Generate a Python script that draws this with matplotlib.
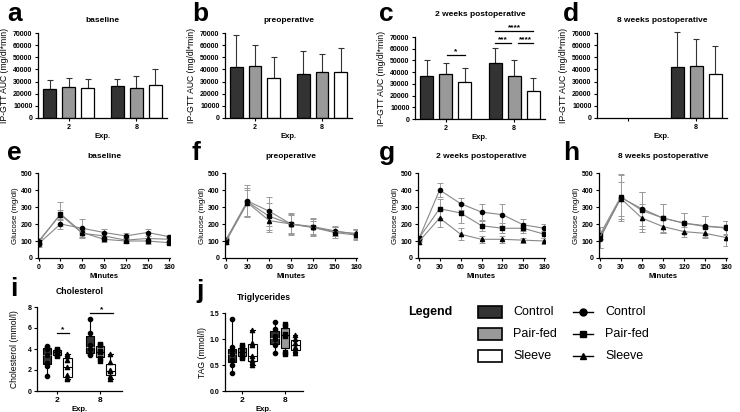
import matplotlib
matplotlib.use("Agg")
import matplotlib.pyplot as plt
import numpy as np
from matplotlib.patches import Rectangle

plt.rcParams["font.family"] = ["Liberation Sans", "DejaVu Sans"]

W, H = 740, 412

groups = ["Control", "Pair-fed", "Sleeve"]
bar_colors = ["#333333", "#999999", "#ffffff"]
markers = ["o", "s", "^"]
exp_labels = ["2", "8"]

# IP-GTT AUC (mean, SD) per experiment (2, 8) and group
auc_base = [[24000, 25500, 25000], [26500, 24500, 27500]]
auc_base_sd = [[7000, 7500, 7500], [5500, 10000, 13000]]
auc_preop = [[42000, 42500, 33000], [36500, 37500, 38000]]
auc_preop_sd = [[26500, 17500, 17500], [19000, 15500, 20000]]
auc_2wk = [[36500, 38000, 31500], [47500, 36500, 24000]]
auc_2wk_sd = [[13500, 9500, 12000], [13500, 13500, 11000]]
auc_8wk = [[None, None, None], [42000, 43000, 36500]]
auc_8wk_sd = [[None, None, None], [29000, 22000, 22500]]

# glucose curves
minutes = [0, 30, 60, 90, 120, 150, 180]
glu_base = [[85, 200, 175, 150, 130, 150, 125],
            [95, 260, 150, 110, 100, 100, 90],
            [100, 255, 145, 130, 105, 115, 110]]
glu_base_sd = [[20, 30, 55, 20, 15, 20, 10],
               [25, 70, 25, 15, 10, 15, 10],
               [20, 30, 20, 20, 15, 15, 10]]
glu_preop = [[105, 335, 275, 200, 185, 160, 140],
             [100, 330, 245, 200, 180, 150, 135],
             [95, 325, 220, 200, 180, 155, 145]]
glu_preop_sd = [[20, 95, 85, 65, 50, 30, 30],
                [15, 80, 80, 60, 50, 30, 30],
                [15, 75, 65, 55, 40, 25, 25]]
glu_2wk = [[110, 400, 320, 270, 255, 195, 175],
           [115, 290, 265, 190, 175, 175, 140],
           [95, 235, 140, 110, 110, 105, 100]]
glu_2wk_sd = [[15, 40, 35, 45, 65, 35, 25],
              [15, 55, 60, 30, 30, 30, 20],
              [15, 50, 35, 20, 20, 15, 20]]
glu_8wk = [[110, 355, 290, 235, 205, 190, 175],
           [135, 360, 280, 235, 205, 185, 180],
           [120, 350, 235, 185, 155, 145, 120]]
glu_8wk_sd = [[50, 140, 100, 85, 60, 55, 40],
              [25, 130, 110, 80, 60, 60, 40],
              [60, 100, 80, 40, 30, 30, 50]]

# cholesterol individual values [exp][group]
chol = [[[4.3, 4.2, 4.0, 3.4, 2.7, 2.4, 1.4],
         [4.0, 3.9, 3.8, 3.7, 3.4, 3.3],
         [3.5, 3.3, 3.0, 2.3, 1.5, 1.2, 1.1]],
        [[6.9, 5.5, 4.4, 4.0, 3.5, 3.4],
         [4.5, 4.4, 3.8, 3.7, 3.1, 2.9],
         [3.5, 2.8, 2.0, 1.9, 1.4, 1.1]]]
# triglycerides
tag = [[[1.38, 0.85, 0.78, 0.72, 0.6, 0.5, 0.35],
        [0.88, 0.85, 0.78, 0.72, 0.65, 0.63],
        [1.17, 0.92, 0.88, 0.68, 0.6, 0.55, 0.5]],
       [[1.33, 1.2, 1.05, 1.0, 0.88, 0.73],
        [1.28, 1.25, 1.1, 1.05, 0.75, 0.72],
        [1.07, 1.0, 0.92, 0.85, 0.78, 0.73]]]

fig = plt.figure(figsize=(W / 100, H / 100), dpi=100)


def ax_px(l, t, r, b):
    ax = fig.add_axes([l / W, 1 - b / H, (r - l) / W, (b - t) / H])
    ax._pxw = r - l
    return ax


def style(ax, ylab_dist):
    ax.spines["top"].set_visible(False)
    ax.spines["right"].set_visible(False)
    for s in ["left", "bottom"]:
        ax.spines[s].set_linewidth(0.9)
    ax.tick_params(labelsize=5, width=0.8, length=2.5, pad=1.5)
    for t in ax.get_xticklabels() + ax.get_yticklabels():
        t.set_fontweight("bold")
    ax.yaxis.set_label_coords(-ylab_dist / ax._pxw, 0.5)


def letter(x, y, s):
    fig.text(x / W, 1 - y / H, s, fontsize=19, fontweight="bold", va="baseline")


offsets = [-0.28, 0, 0.28]


def bar_panel(rect, vals, sds, title, show2=True, tpad=8):
    ax = ax_px(*rect)
    for e in range(2):
        for g in range(3):
            if vals[e][g] is None:
                continue
            x = e + offsets[g]
            ax.bar(x, vals[e][g], width=0.19, color=bar_colors[g],
                   edgecolor="black", linewidth=0.9, zorder=2)
            ax.errorbar(x, vals[e][g], yerr=[[0], [sds[e][g]]], fmt="none",
                        ecolor="#333333", elinewidth=0.8, capsize=2.2,
                        capthick=0.8, zorder=1, clip_on=False)
    ax.set_xlim(-0.45, 1.45)
    ax.set_ylim(0, 70000)
    ax.set_yticks(range(0, 70001, 10000))
    ax.set_xticks([0, 1])
    ax.set_xticklabels(exp_labels if show2 else ["", "8"])
    ax.set_xlabel("Exp.", fontsize=5.5, fontweight="bold", labelpad=2)
    ax.set_ylabel("IP-GTT AUC (mg/dl*min)", fontsize=6.2)
    ax.set_title(title, fontsize=6, fontweight="bold", pad=tpad)
    style(ax, 29)
    return ax


bar_panel((38, 33, 167, 118), auc_base, auc_base_sd, "baseline")
bar_panel((225, 33, 352, 118), auc_preop, auc_preop_sd, "preoperative")
axc = bar_panel((415, 37, 545, 119), auc_2wk, auc_2wk_sd,
                "2 weeks postoperative", tpad=15)
bar_panel((597, 33, 727, 118), auc_8wk, auc_8wk_sd, "8 weeks postoperative",
          show2=False)


def sig(ax, x1, x2, y, s, dy):
    ax.plot([x1, x2], [y, y], color="black", lw=0.9, clip_on=False)
    ax.text((x1 + x2) / 2, y + dy, s, ha="center", va="baseline",
            fontsize=6, fontweight="bold", clip_on=False)


sig(axc, offsets[1] + 0.02, offsets[2], 55000, "*", 1500)
sig(axc, 1 + offsets[0], 1 + offsets[1] - 0.05, 65000, "***", 1500)
sig(axc, 1 + offsets[1] + 0.05, 1 + offsets[2], 65000, "****", 1500)
sig(axc, 1 + offsets[0], 1 + offsets[2], 75500, "****", 1500)


def line_panel(rect, vals, sds, title):
    ax = ax_px(*rect)
    for g in range(3):
        ax.errorbar(minutes, vals[g], yerr=sds[g], color="#888888", lw=0.8,
                    ecolor="#999999", elinewidth=0.7, capsize=2, capthick=0.7,
                    marker=markers[g], mfc="black", mec="black", ms=3, zorder=2)
    ax.set_xlim(-1, 181)
    ax.set_ylim(0, 500)
    ax.set_xticks(minutes)
    ax.set_yticks(range(0, 501, 100))
    ax.set_xlabel("Minutes", fontsize=5.5, fontweight="bold", labelpad=2)
    ax.set_ylabel("Glucose (mg/dl)", fontsize=5.8)
    ax.set_title(title, fontsize=6, fontweight="bold", pad=11)
    style(ax, 19)


line_panel((38, 173, 170, 258), glu_base, glu_base_sd, "baseline")
line_panel((225, 173, 357, 258), glu_preop, glu_preop_sd, "preoperative")
line_panel((418, 173, 545, 258), glu_2wk, glu_2wk_sd, "2 weeks postoperative")
line_panel((599, 173, 727, 258), glu_8wk, glu_8wk_sd, "8 weeks postoperative")

box_off = [-0.24, 0, 0.24]


def box_panel(rect, data, ylim, yticks, ylabel, title, fmt, xlim):
    ax = ax_px(*rect)
    for e in range(2):
        for g in range(3):
            x = e + box_off[g]
            d = data[e][g]
            ax.boxplot([d], positions=[x], widths=0.2, whis=(0, 100),
                       patch_artist=True, showfliers=False,
                       boxprops=dict(facecolor=bar_colors[g], edgecolor="black", lw=0.8),
                       medianprops=dict(color="#bbbbbb" if g == 0 else "black", lw=0.8),
                       whiskerprops=dict(lw=0.8), capprops=dict(lw=0.8))
            ax.scatter([x] * len(d), d, marker=markers[g], s=9, color="black",
                       zorder=3)
    ax.set_xlim(*xlim)
    ax.set_ylim(*ylim)
    ax.set_yticks(yticks)
    ax.yaxis.set_major_formatter(plt.FormatStrFormatter(fmt))
    ax.set_xticks([0, 1])
    ax.set_xticklabels(exp_labels)
    ax.tick_params(axis="x", labelsize=6)
    ax.set_xlabel("Exp.", fontsize=5.5, fontweight="bold", labelpad=2)
    ax.set_ylabel(ylabel, fontsize=6.2)
    ax.set_title(title, fontsize=6.2, fontweight="bold", pad=9)
    style(ax, 18)
    ax.tick_params(axis="x", labelsize=6)
    return ax


axi = box_panel((37, 307, 122, 391), chol, (0, 8), [0, 2, 4, 6, 8],
                "Cholesterol (mmol/l)", "Cholesterol", "%d", (-0.47, 1.51))
sig(axi, box_off[1], box_off[2] + 0.03, 5.5, "*", 0.2)
sig(axi, 1 + box_off[0], 1 + box_off[2] + 0.05, 7.4, "*", 0.2)
box_panel((225, 313, 303, 391), tag, (0, 1.5), [0.0, 0.5, 1.0, 1.5],
          "TAG (mmol/l)", "Triglycerides", "%.1f", (-0.4, 1.42))

letter(7, 21, "a")
letter(192, 21, "b")
letter(379, 21, "c")
letter(563, 21, "d")
letter(7, 160, "e")
letter(192, 160, "f")
letter(379, 160, "g")
letter(563, 160, "h")
letter(10, 296, "i")
letter(196, 298, "j")

# legend drawn in a pixel-coordinate overlay
lg = fig.add_axes([400 / W, 1 - 412 / H, 340 / W, 112 / H])
lg.set_xlim(400, 740)
lg.set_ylim(412, 300)
lg.axis("off")
lg.text(408, 312, "Legend", fontsize=9, fontweight="bold", va="center")
for i, g in enumerate(groups):
    y = 312 + 22 * i
    lg.add_patch(Rectangle((478, y - 6), 24, 12, facecolor=bar_colors[i],
                           edgecolor="black", lw=1.2))
    lg.text(513, y, g, fontsize=9, va="center")
    lg.plot([573, 593], [y, y], color="black", lw=1)
    lg.plot([583], [y], marker=markers[i], color="black", ms=5)
    lg.text(605, y, g, fontsize=9, va="center")

fig.savefig("out.png", dpi=100)
